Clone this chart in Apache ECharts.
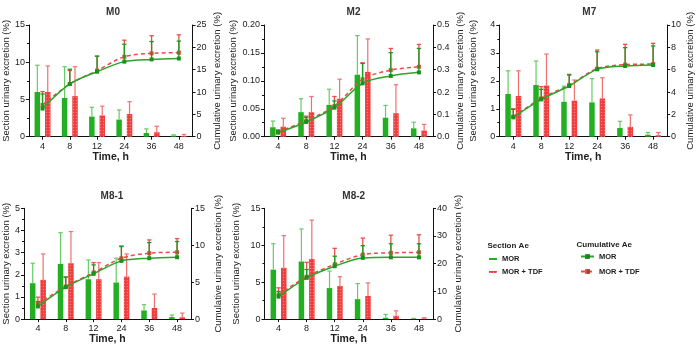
<!DOCTYPE html>
<html>
<head>
<meta charset="utf-8">
<script src="https://cdn.jsdelivr.net/npm/echarts@6/dist/echarts.min.js"></script>
<style>
  html, body { margin: 0; padding: 0; background: #fff; }
  #chart { width: 696px; height: 346px; }
</style>
</head>
<body>
<div id="chart"></div>
<script>
// time points (h)
const times = ['4', '8', '12', '24', '36', '48'];
const panels = ['M0', 'M2', 'M7', 'M8-1', 'M8-2'];

// section urinary excretion (%), mean and SD, one row per panel
const secMor = [
  [6.0, 5.2, 2.7, 2.3, 0.5, 0.15],
  [0.017, 0.044, 0.057, 0.111, 0.034, 0.015],
  [1.53, 1.85, 1.25, 1.23, 0.31, 0.07],
  [1.62, 2.49, 1.8, 1.65, 0.39, 0.09],
  [6.7, 7.8, 4.2, 2.7, 0.18, 0.05],
];
const secMorSd = [
  [3.6, 4.2, 1.25, 1.3, 0.55, 0.1],
  [0.011, 0.024, 0.028, 0.07, 0.022, 0.011],
  [0.83, 0.86, 0.56, 0.85, 0.24, 0.08],
  [0.9, 1.41, 0.87, 1.1, 0.26, 0.09],
  [3.5, 4.4, 2.3, 2.1, 0.45, 0.05],
];
const secTdf = [
  [6.0, 5.45, 2.85, 3.05, 0.6, 0.1],
  [0.018, 0.044, 0.068, 0.116, 0.042, 0.011],
  [1.46, 1.83, 1.29, 1.37, 0.35, 0.05],
  [1.77, 2.52, 1.8, 1.92, 0.5, 0.08],
  [6.94, 8.15, 4.48, 3.13, 0.45, 0.08],
];
const secTdfSd = [
  [3.5, 3.95, 1.25, 1.65, 0.8, 0.2],
  [0.015, 0.028, 0.035, 0.059, 0.051, 0.011],
  [0.9, 1.13, 0.74, 0.74, 0.43, 0.1],
  [1.17, 1.43, 0.75, 1.02, 0.63, 0.19],
  [4.36, 5.25, 1.25, 1.77, 0.67, 0.1],
];

// cumulative urinary excretion (%), mean and SD
const cumMor = [
  [6.3, 11.8, 14.55, 16.8, 17.3, 17.5],
  [0.018, 0.066, 0.13, 0.239, 0.272, 0.288],
  [1.73, 3.34, 4.54, 6.03, 6.33, 6.42],
  [1.71, 4.32, 6.13, 7.88, 8.24, 8.38],
  [8.1, 14.9, 19.1, 22.1, 22.3, 22.3],
];
const cumMorSd = [
  [3.25, 3.3, 3.5, 3.9, 4.0, 3.9],
  [0.009, 0.021, 0.03, 0.089, 0.104, 0.107],
  [0.72, 0.9, 0.98, 1.57, 1.64, 1.7],
  [0.68, 1.36, 1.21, 1.94, 2.12, 2.12],
  [1.9, 3.0, 3.6, 4.4, 4.9, 4.9],
];
const cumTdf = [
  [7.1, 11.8, 14.8, 17.9, 18.65, 18.8],
  [0.021, 0.072, 0.137, 0.257, 0.298, 0.313],
  [1.8, 3.43, 4.63, 6.09, 6.45, 6.5],
  [2.07, 4.41, 6.3, 8.24, 8.92, 9.05],
  [8.84, 15.3, 19.8, 23.3, 23.9, 24.1],
];
const cumTdfSd = [
  [3.0, 3.0, 3.2, 3.7, 3.95, 4.0],
  [0.01, 0.02, 0.043, 0.074, 0.097, 0.1],
  [0.7, 1.05, 0.95, 1.67, 1.82, 1.86],
  [0.9, 1.3, 1.35, 1.66, 1.8, 1.85],
  [2.46, 5.2, 5.75, 5.95, 6.4, 6.35],
];

// axis scales
const leftMax = [15, 0.2, 4, 5, 15];
const leftStep = [5, 0.05, 1, 1, 5];
const leftDigits = [0, 2, 0, 0, 0];
const rightMax = [25, 0.5, 10, 15, 40];
const rightStep = [5, 0.1, 2, 5, 10];
const rightDigits = [0, 1, 0, 0, 0];

// layout (px)
const grids = [
  { left: 23.5, top: 25, width: 169, height: 111.7 },
  { left: 264, top: 25, width: 169, height: 111.7 },
  { left: 499.3, top: 25, width: 170, height: 111.7 },
  { left: 23, top: 208.3, width: 168, height: 111.3 },
  { left: 264.5, top: 208.3, width: 168.5, height: 111.3 },
];
const leftNameGap = [14, 22.5, 21, 13, 23];
const rightNameGap = [19.5, 22, 16, 22, 20.5];

const FONT = 'Liberation Sans, Arial, sans-serif';
const GREEN = '#22b022';
const GREEN_ERR = '#66cc66';
const GREEN_LINE = '#2aa52a';
const RED = '#f03c3c';
const RED_ERR = '#f07070';
const RED_LINE = '#ec4a4a';
const BAR_OFF = 5.2;

function errBars(g, yIdx, means, sds, offset, color, lw, z) {
  return {
    type: 'custom',
    name: 'err',
    xAxisIndex: g,
    yAxisIndex: yIdx,
    z: z,
    silent: true,
    encode: { x: 0, y: [1, 2] },
    data: means.map((m, i) => [i, m, m + sds[i]]),
    renderItem: (params, api) => {
      const lo = api.coord([api.value(0), api.value(1)]);
      const hi = api.coord([api.value(0), api.value(2)]);
      const cx = lo[0] + offset;
      const st = { stroke: color, lineWidth: lw };
      return {
        type: 'group',
        children: [
          { type: 'line', shape: { x1: cx, y1: lo[1], x2: cx, y2: hi[1] }, style: st },
          { type: 'line', shape: { x1: cx - 2.2, y1: hi[1], x2: cx + 2.2, y2: hi[1] }, style: st },
        ],
      };
    },
  };
}

const axisCommon = {
  axisLine: { show: true, lineStyle: { color: '#111', width: 1 } },
  axisTick: { show: true, length: 3, lineStyle: { color: '#111' } },
  splitLine: { show: false },
};

const xAxes = [], yAxes = [], series = [], titles = [];

panels.forEach((p, g) => {
  const gr = grids[g];
  titles.push({
    text: p,
    left: gr.left + gr.width / 2,
    top: gr.top - 22.5,
    textAlign: 'center',
    textStyle: { fontFamily: FONT, fontSize: 10, fontWeight: 'bold', color: '#333' },
  });
  xAxes.push({
    ...axisCommon,
    gridIndex: g,
    type: 'category',
    data: times,
    boundaryGap: true,
    axisTick: { show: true, alignWithLabel: true, length: 3, lineStyle: { color: '#111' } },
    axisLabel: { fontFamily: FONT, fontSize: 9, color: '#222', margin: 5 },
    name: 'Time, h',
    nameLocation: 'middle',
    nameGap: 14,
    nameTextStyle: { fontFamily: FONT, fontSize: 10.5, fontWeight: 'bold', color: '#222' },
  });
  yAxes.push({
    ...axisCommon,
    gridIndex: g,
    type: 'value',
    position: 'left',
    min: 0,
    max: leftMax[g],
    interval: leftStep[g],
    minorTick: { show: true, splitNumber: 2, length: 2, lineStyle: { color: '#111' } },
    axisLabel: { fontFamily: FONT, fontSize: 9, color: '#222', margin: 4,
      formatter: v => v.toFixed(leftDigits[g]) },
    name: 'Section urinary excretion (%)',
    nameLocation: 'middle',
    nameGap: leftNameGap[g],
    nameTextStyle: { fontFamily: FONT, fontSize: 9.5, color: '#222' },
  });
  yAxes.push({
    ...axisCommon,
    gridIndex: g,
    type: 'value',
    position: 'right',
    min: 0,
    max: rightMax[g],
    interval: rightStep[g],
    axisLabel: { fontFamily: FONT, fontSize: 9, color: '#222', margin: 4,
      formatter: v => v.toFixed(rightDigits[g]) },
    name: 'Cumulative urinary excretion (%)',
    nameLocation: 'middle',
    nameGap: rightNameGap[g],
    nameTextStyle: { fontFamily: FONT, fontSize: 9.5, color: '#222' },
  });

  const yl = 2 * g, yr = 2 * g + 1;
  series.push({
    type: 'bar', name: 'MOR', xAxisIndex: g, yAxisIndex: yl, z: 2,
    barWidth: 5.5, barGap: '90%',
    itemStyle: { color: GREEN, decal: { symbol: 'none' } },
    data: secMor[g],
  });
  series.push({
    type: 'bar', name: 'MOR + TDF', xAxisIndex: g, yAxisIndex: yl, z: 2,
    barWidth: 5.5, barGap: '90%',
    itemStyle: {
      color: RED,
      decal: { symbol: 'circle', symbolSize: 0.5, color: 'rgba(255,170,170,0.6)',
        dashArrayX: [2.5, 0], dashArrayY: [2.5, 0], rotation: 0 },
    },
    data: secTdf[g],
  });
  series.push(errBars(g, yl, secMor[g], secMorSd[g], -BAR_OFF, GREEN_ERR, 1.2, 3));
  series.push(errBars(g, yl, secTdf[g], secTdfSd[g], BAR_OFF, RED_ERR, 1.2, 3));
  series.push(errBars(g, yr, cumTdf[g], cumTdfSd[g], 0, '#e85050', 1.3, 5));
  series.push({
    type: 'line', name: 'MOR + TDF ', xAxisIndex: g, yAxisIndex: yr, z: 6,
    smooth: 0.3, symbol: 'rect', symbolSize: 4,
    lineStyle: { color: RED_LINE, width: 1.5, type: [4, 3] },
    itemStyle: { color: '#d4503c' },
    data: cumTdf[g],
  });
  series.push(errBars(g, yr, cumMor[g], cumMorSd[g], 0, '#1c9c1c', 1.3, 7));
  series.push({
    type: 'line', name: 'MOR ', xAxisIndex: g, yAxisIndex: yr, z: 8,
    smooth: 0.3, symbol: 'rect', symbolSize: 4,
    lineStyle: { color: GREEN_LINE, width: 1.5 },
    itemStyle: { color: '#1c8f1c' },
    data: cumMor[g],
  });
});

titles.push({
  text: 'Section Ae', left: 482.5, top: 237,
  textStyle: { fontFamily: FONT, fontSize: 8, fontWeight: 'bold', color: '#222' },
});
titles.push({
  text: 'Cumulative Ae', left: 571.5, top: 235.5,
  textStyle: { fontFamily: FONT, fontSize: 8, fontWeight: 'bold', color: '#222' },
});

const legendText = { fontFamily: FONT, fontSize: 7.5, fontWeight: 'bold', color: '#222' };

const chart = echarts.init(document.getElementById('chart'));
chart.setOption({
  backgroundColor: '#fff',
  animation: false,
  aria: { enabled: true, decal: { show: true } },
  title: titles,
  grid: grids,
  xAxis: xAxes,
  yAxis: yAxes,
  legend: [
    {
      left: 484, top: 250, orient: 'vertical', itemGap: 5,
      itemWidth: 8, itemHeight: 2, selectedMode: false,
      textStyle: legendText,
      data: [{ name: 'MOR', icon: 'rect' }, { name: 'MOR + TDF', icon: 'rect' }],
    },
    {
      left: 575, top: 247.5, orient: 'vertical', itemGap: 7,
      itemWidth: 13, itemHeight: 6, selectedMode: false,
      textStyle: legendText,
      data: ['MOR ', 'MOR + TDF '],
    },
  ],
  series: series,
});
</script>
</body>
</html>
